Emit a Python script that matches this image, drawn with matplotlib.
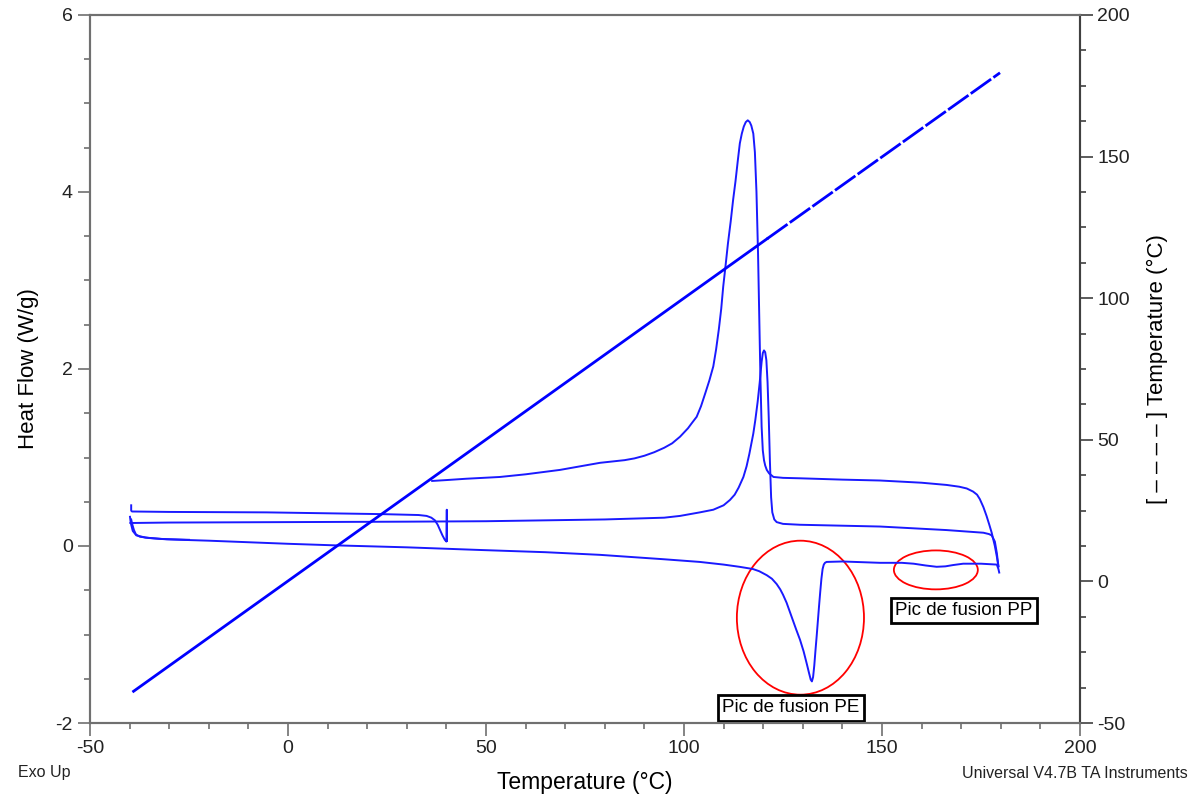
import matplotlib
matplotlib.use("Agg")
import matplotlib.pyplot as plt
from matplotlib.patches import Ellipse
from matplotlib.ticker import MultipleLocator

plt.rcParams['font.family'] = ['Liberation Sans', 'DejaVu Sans']
plt.rcParams['axes.unicode_minus'] = False

# ---------------- data ----------------
# Sample temperature vs temperature (right axis)
temp_x = [-39.0, 121.0, 179.8]
temp_T = [-38.8, 121.0, 179.6]

# Segment 0: short initial segment (-40 .. 40 C)
c0_x = [-39.6, -39.6, -39.4, -30.0, -5.4, 24.0, 33.0, 35.0, 36.2, 37.1, 37.8, 38.4, 39.0, 39.6, 40.0, 40.1, 40.15]
c0_y = [0.46, 0.40, 0.39, 0.385, 0.38, 0.36, 0.35, 0.34, 0.32, 0.29, 0.24, 0.18, 0.12, 0.07, 0.05, 0.41, 0.06]

# Segment 1: large exotherm (crystallisation, peak ~116 C)
c1_x = [36.4, 40, 45, 53.5, 60, 68.7, 75, 78.8, 85, 87.5, 90, 92.5, 95, 97, 99, 101, 102, 103.2, 104.3,
        105.4, 106.4, 107.4, 108.1, 108.8, 109.4, 109.9, 110.5, 111.1, 111.8, 112.4, 113.0, 113.6, 114.1,
        114.6, 115.1, 115.6, 116.1, 116.6, 117.0, 117.5, 117.9, 118.3, 118.7, 119.0, 119.3, 119.6, 119.9,
        120.2, 120.5, 120.9, 121.5, 122.6, 125, 129.3, 140, 149.5, 160, 166.3, 169.5, 171.4, 173.0, 174.0,
        174.7, 175.6, 176.4, 177.1, 177.7, 178.5, 179.0, 179.4]
c1_y = [0.735, 0.745, 0.76, 0.78, 0.81, 0.86, 0.91, 0.94, 0.97, 0.99, 1.02, 1.06, 1.11, 1.16, 1.235, 1.33,
        1.39, 1.46, 1.58, 1.73, 1.87, 2.03, 2.22, 2.45, 2.68, 2.93, 3.17, 3.42, 3.67, 3.91, 4.12, 4.36,
        4.55, 4.66, 4.74, 4.79, 4.81, 4.79, 4.75, 4.66, 4.45, 4.0, 3.3, 2.6, 1.9, 1.35, 1.08, 0.97, 0.91,
        0.86, 0.82, 0.78, 0.77, 0.765, 0.75, 0.74, 0.715, 0.69, 0.67, 0.65, 0.615, 0.58, 0.53, 0.44, 0.34,
        0.24, 0.15, 0.0, -0.12, -0.23]

# Segment 2: second exotherm (peak ~120 C)
c2_x = [-39.8, -39.5, -30, 0, 30, 50, 80, 95, 99, 104, 107.4, 110, 111.6, 112.8, 113.8, 115, 115.8, 116.5,
        117.5, 118.0, 118.6, 119.1, 119.6, 119.9, 120.2, 120.5, 120.8, 121.1, 121.4, 121.7, 122.0, 122.3,
        122.8, 123.4, 125, 129.3, 149.5, 166.3, 175.6, 177.0, 177.7, 178.5, 179.0, 179.4]
c2_y = [0.26, 0.26, 0.265, 0.27, 0.275, 0.28, 0.30, 0.32, 0.34, 0.38, 0.41, 0.46, 0.52, 0.58, 0.66, 0.78,
        0.90, 1.04, 1.27, 1.42, 1.63, 1.84, 2.08, 2.18, 2.21, 2.19, 2.10, 1.85, 1.45, 0.95, 0.55, 0.38,
        0.30, 0.27, 0.25, 0.24, 0.22, 0.18, 0.15, 0.135, 0.12, 0.05, -0.08, -0.23]

# Segment 3: heating with melting endotherms (PE ~132 C, PP ~164 C)
c3_x = [-39.6, -39.3, -38.9, -38.4, -37.4, -35, -30.6, -20, 0, 11.4, 30, 48.5, 65, 78.8, 95, 104, 110, 114,
        117.4, 119.0, 120.9, 122.2, 123.4, 124.3, 125.0, 125.9, 126.7, 127.5, 128.3, 129.3, 130.2, 131.0,
        131.6, 132.0, 132.3, 132.6, 132.9, 133.2, 133.5, 133.8, 134.1, 134.4, 134.7, 135.0, 135.3, 135.6,
        136.0, 140, 149.5, 155, 158, 161, 163.8, 166, 168, 170.5, 175, 179, 179.4, 179.6]
c3_y = [0.30, 0.24, 0.18, 0.13, 0.105, 0.09, 0.075, 0.06, 0.025, 0.008, -0.015, -0.045, -0.07, -0.10, -0.15,
        -0.18, -0.21, -0.235, -0.26, -0.285, -0.33, -0.37, -0.43, -0.49, -0.55, -0.64, -0.74, -0.84, -0.94,
        -1.06, -1.19, -1.33, -1.44, -1.51, -1.53, -1.48, -1.35, -1.18, -1.02, -0.85, -0.68, -0.52, -0.37,
        -0.26, -0.21, -0.19, -0.18, -0.175, -0.19, -0.19, -0.20, -0.22, -0.235, -0.23, -0.215, -0.20,
        -0.20, -0.21, -0.26, -0.30]

# Second start hook (overlapping trace)
c4_x = [-39.9, -39.7, -39.2, -38.3, -36.0, -32.0, -25.0]
c4_y = [0.33, 0.26, 0.17, 0.12, 0.095, 0.08, 0.07]

# Annotations
pe_label = "Pic de fusion PE"
pp_label = "Pic de fusion PP"

# ---------------- figure ----------------
fig = plt.figure(figsize=(11.98, 7.94), dpi=100)
ax = fig.add_axes([90 / 1198, 1 - 723 / 794, 990 / 1198, 708 / 794])
ax2 = ax.twinx()

blue = '#1a1aff'
for xs, ys in [(c0_x, c0_y), (c1_x, c1_y), (c2_x, c2_y), (c3_x, c3_y), (c4_x, c4_y)]:
    ax.plot(xs, ys, color=blue, lw=1.4, solid_joinstyle='round')

ax2.plot(temp_x[:2], temp_T[:2], color='#0000ff', lw=2.0)
ax2.plot(temp_x[1:], temp_T[1:], color='#0000ff', lw=2.0, dashes=(9, 1))

ax.set_xlim(-50, 200)
ax.set_ylim(-2, 6)
ax2.set_ylim(-50, 200)

ax.xaxis.set_major_locator(MultipleLocator(50))
ax.xaxis.set_minor_locator(MultipleLocator(10))
ax.yaxis.set_major_locator(MultipleLocator(2))
ax.yaxis.set_minor_locator(MultipleLocator(0.5))
ax2.yaxis.set_major_locator(MultipleLocator(50))
ax2.yaxis.set_minor_locator(MultipleLocator(12.5))

spine_col = '#707070'
for a in (ax, ax2):
    for s in a.spines.values():
        s.set_color(spine_col)
        s.set_linewidth(1.5)
ax2.spines['right'].set_color('#404040')

ax.tick_params(axis='both', which='major', direction='out', length=9, width=1.2, color=spine_col,
               labelsize=14, labelcolor='#222222')
ax.tick_params(axis='both', which='minor', direction='out', length=4.5, width=1.2, color=spine_col)
ax2.tick_params(axis='y', which='major', direction='out', length=9, width=1.2, color='#404040',
                labelsize=14, labelcolor='#222222')
ax2.tick_params(axis='y', which='minor', direction='out', length=4.5, width=1.2, color='#404040')

ax.set_ylabel('Heat Flow (W/g)', fontsize=16, labelpad=12)
ax.set_xlabel('Temperature (°C)', fontsize=16.5, labelpad=10)
ax2.set_ylabel('[ – – – – ] Temperature (°C)', fontsize=16, labelpad=12)

# red ellipses
ax.add_patch(Ellipse((129.4, -0.81), 32.1, 1.74, fill=False, edgecolor='red', lw=1.3))
ax.add_patch(Ellipse((163.6, -0.27), 21.2, 0.44, fill=False, edgecolor='red', lw=1.3))

box = dict(boxstyle='square,pad=0.22', facecolor='white', edgecolor='black', lw=2)
ax.text(127.0, -1.83, pe_label, ha='center', va='center', fontsize=13.5, bbox=box, zorder=5)
ax.text(170.7, -0.73, pp_label, ha='center', va='center', fontsize=13.5, bbox=box, zorder=5)

fig.text(18 / 1198, 1 - 773 / 794, 'Exo Up', ha='left', va='center', fontsize=11.5, color='#222222')
fig.text(1188 / 1198, 1 - 773 / 794, 'Universal V4.7B TA Instruments', ha='right', va='center',
         fontsize=11.5, color='#222222')

fig.savefig('out.png', dpi=100)
